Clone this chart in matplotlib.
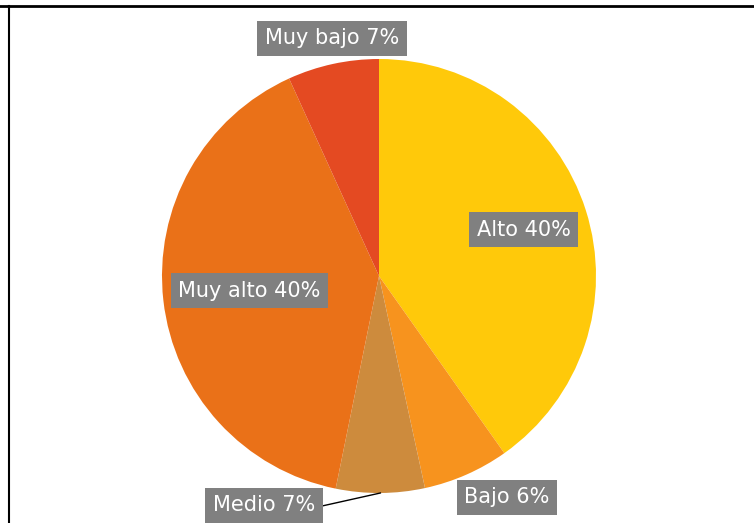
import numpy as np
import matplotlib
matplotlib.use("Agg")
import matplotlib.pyplot as plt
from matplotlib.lines import Line2D

categories = ["Alto", "Bajo", "Medio", "Muy alto", "Muy bajo"]
values = [40.2, 6.4, 6.6, 40.0, 6.8]
colors = ["#FFC90A", "#F7931E", "#CD8B3D", "#EA7118", "#E44A22"]

W, H = 754, 523
fig = plt.figure(figsize=(W / 100, H / 100), dpi=100)
ax = fig.add_axes([0, 0, 1, 1])

cx, cy, R = 379, H - 276, 217
wedges, _ = ax.pie(values, colors=colors, startangle=90, counterclock=False,
                   center=(cx, cy), radius=R, frame=True,
                   wedgeprops=dict(linewidth=0))
ax.set_xlim(0, W)
ax.set_ylim(0, H)
ax.set_aspect("equal")
ax.axis("off")

total = sum(values)
labels = [f"{c} {round(v / total * 100)}%" for c, v in zip(categories, values)]

# mid angles (clockwise from top)
cum = np.cumsum([0] + values[:-1])
mids = [(c + v / 2) / total * 360 for c, v in zip(cum, values)]

def pt(ang, r):
    a = np.deg2rad(ang)
    return cx + r * np.sin(a), cy + r * np.cos(a)

box = dict(boxstyle="square,pad=0.36", fc="#808080", ec="none")
fs = 15

# inside labels
for i, rfrac in [(0, 0.70), (3, 0.60)]:
    x, y = pt(mids[i], R * rfrac)
    ax.text(x, y, labels[i], ha="center", va="center", color="white",
            fontsize=fs, bbox=box)

# outside labels
ax.text(332, H - 38, labels[4], ha="center", va="center", color="white",
        fontsize=fs, bbox=box)
ax.text(507, H - 497, labels[1], ha="center", va="center", color="white",
        fontsize=fs, bbox=box)
ax.text(264, H - 505, labels[2], ha="center", va="center", color="white",
        fontsize=fs, bbox=box)
ex, ey = pt(mids[2], R)
ax.add_line(Line2D([ex, 322], [ey, H - 506], color="black", lw=1))

# frame lines
fig.add_artist(Line2D([0, 1], [1 - 6 / H, 1 - 6 / H], color="black", lw=2,
                      transform=fig.transFigure))
fig.add_artist(Line2D([9 / W, 9 / W], [0, 1 - 6 / H], color="black", lw=1.5,
                      transform=fig.transFigure))

fig.savefig("out.png", dpi=100)
